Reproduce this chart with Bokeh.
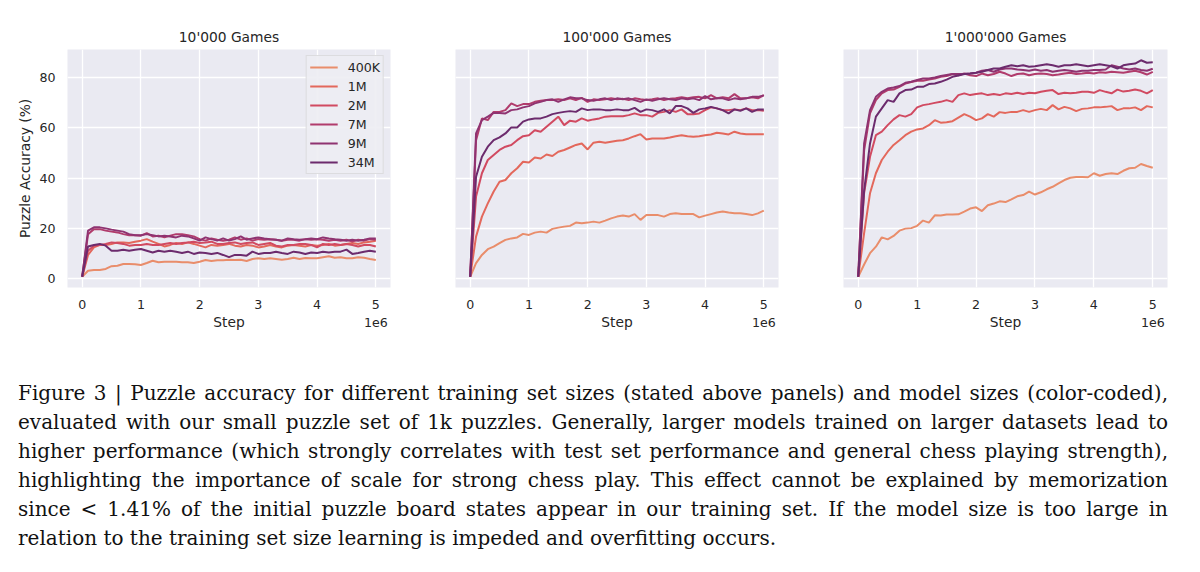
from bokeh.plotting import figure
from bokeh.models import Range1d, FixedTicker, Legend, LegendItem, Div
from bokeh.layouts import row, column
from bokeh.embed import file_html
from bokeh.resources import INLINE

# ---------------- data ----------------
steps = [i * 100000 for i in range(51)]
model_sizes = ["400K", "1M", "2M", "7M", "9M", "34M"]
colors = ["#e98d6b", "#e3685c", "#d14a61", "#b13c6c", "#8f3371", "#6c2b6d"]
panel_titles = ["10'000 Games", "100'000 Games", "1'000'000 Games"]
x_tick_labels = ["0", "1", "2", "3", "4", "5\n1e6"]
y_ticks = [0, 20, 40, 60, 80]

# 10'000 games
g10k_400k = [0.6, 3.0, 3.3, 3.3, 3.7, 4.8, 5.0, 5.7, 5.7, 5.6, 5.3, 6.1, 7.0, 6.4, 6.6, 6.6, 6.6, 6.4, 6.4, 6.1,
             6.6, 7.3, 6.9, 7.2, 7.2, 7.4, 7.3, 7.4, 6.9, 7.7, 8.0, 7.7, 8.0, 7.7, 7.4, 7.7, 8.2, 7.7, 8.1, 8.0,
             8.0, 8.4, 8.8, 8.2, 8.4, 8.0, 8.0, 8.4, 8.2, 7.7, 7.3]
g10k_1m = [0.6, 9.3, 12.3, 13.3, 13.3, 13.7, 14.3, 14.3, 14.1, 14.6, 15.0, 15.6, 14.6, 13.7, 12.7, 13.3, 14.1, 13.7,
           14.3, 13.7, 13.0, 12.3, 13.3, 13.0, 13.3, 13.7, 13.0, 12.7, 13.3, 13.0, 12.3, 12.7, 13.3, 12.7, 12.3,
           13.0, 13.3, 13.0, 12.7, 13.3, 13.0, 13.3, 13.7, 13.0, 13.3, 13.7, 14.1, 13.7, 14.3, 14.6, 15.0]
g10k_2m = [0.6, 11.0, 13.0, 13.3, 13.7, 14.3, 14.1, 13.7, 13.0, 13.3, 13.3, 13.7, 13.3, 13.3, 13.7, 14.1, 13.7, 14.1,
           14.3, 14.6, 14.1, 14.3, 14.6, 13.7, 13.7, 14.1, 14.3, 13.7, 14.1, 14.3, 13.3, 13.7, 14.1, 13.0, 12.7,
           13.3, 13.3, 13.7, 13.7, 13.3, 12.3, 13.7, 13.3, 13.7, 13.3, 13.7, 13.3, 12.7, 13.3, 13.3, 12.7]
g10k_7m = [0.6, 17.6, 19.6, 19.6, 19.0, 18.6, 18.3, 17.6, 17.2, 17.2, 17.0, 18.0, 16.7, 17.0, 16.3, 17.0, 17.6, 17.6,
           17.2, 16.7, 15.6, 15.0, 15.9, 15.4, 15.0, 15.4, 16.3, 15.4, 15.9, 15.0, 15.6, 15.4, 15.6, 15.4, 15.0,
           15.4, 15.4, 15.0, 15.6, 15.4, 15.6, 15.4, 15.0, 15.4, 15.0, 15.4, 14.6, 15.4, 15.0, 15.6, 15.4]
g10k_9m = [0.6, 19.0, 20.3, 20.3, 19.9, 19.4, 19.0, 18.6, 17.6, 17.2, 17.2, 17.6, 17.2, 16.7, 17.0, 16.7, 16.3, 17.0,
           16.7, 15.9, 15.0, 16.3, 15.6, 15.0, 15.9, 15.0, 15.6, 16.7, 15.4, 15.9, 16.3, 15.9, 15.6, 15.4, 15.0,
           15.9, 15.6, 15.4, 15.6, 15.9, 15.6, 16.3, 15.9, 15.6, 15.4, 15.0, 15.4, 15.0, 15.4, 15.9, 15.9]
g10k_34m = [0.6, 12.7, 13.3, 13.7, 13.0, 11.0, 11.0, 11.4, 11.0, 11.4, 11.7, 11.0, 10.3, 11.0, 10.6, 11.0, 10.6, 10.1,
            10.6, 9.7, 10.3, 10.1, 9.7, 10.1, 9.3, 8.4, 9.3, 9.3, 9.0, 10.6, 9.7, 10.1, 10.1, 10.6, 10.1, 9.7,
            10.6, 10.3, 9.7, 10.3, 10.1, 10.6, 10.3, 10.6, 10.6, 11.4, 9.7, 10.1, 10.6, 11.0, 10.6]

# 100'000 games
g100k_400k = [0.6, 6.0, 9.3, 11.6, 12.6, 14.0, 15.3, 15.9, 16.3, 17.7, 17.3, 18.2, 18.6, 18.2, 19.7, 20.2, 20.6, 20.9,
              22.2, 21.9, 22.2, 22.6, 22.2, 23.0, 23.9, 24.6, 25.0, 24.6, 25.6, 23.3, 25.2, 25.2, 25.2, 24.6, 25.6,
              25.9, 25.6, 25.6, 25.6, 24.3, 25.0, 25.6, 26.2, 26.6, 26.2, 25.9, 25.9, 25.6, 25.2, 25.9, 27.0]
g100k_1m = [0.6, 16.6, 24.6, 29.9, 34.6, 38.5, 39.2, 41.9, 43.9, 46.5, 46.2, 48.2, 47.8, 49.4, 48.8, 50.5, 51.2, 52.2,
            53.2, 53.8, 51.4, 54.1, 54.5, 54.1, 54.5, 54.9, 55.1, 55.8, 56.7, 57.5, 55.4, 55.8, 55.8, 55.8, 56.2,
            56.7, 57.1, 56.7, 56.5, 56.7, 57.1, 57.4, 58.1, 57.8, 57.4, 58.5, 57.8, 57.5, 57.5, 57.5, 57.5]
g100k_2m = [0.6, 32.6, 41.9, 47.2, 49.2, 51.2, 52.5, 53.2, 55.1, 56.7, 57.1, 59.1, 58.5, 60.5, 62.5, 64.5, 61.1, 62.9,
            62.5, 63.8, 62.9, 63.4, 63.8, 64.5, 64.7, 64.7, 64.7, 65.1, 65.8, 65.1, 65.1, 64.5, 66.0, 66.4, 67.1,
            66.4, 67.4, 65.5, 65.5, 65.8, 67.1, 68.2, 67.8, 67.1, 67.1, 67.4, 67.1, 67.8, 67.1, 67.1, 66.8]
g100k_7m = [0.6, 55.1, 63.8, 63.1, 66.4, 66.4, 67.1, 69.8, 68.7, 69.5, 69.5, 70.4, 70.8, 71.1, 71.1, 71.4, 71.1, 71.8,
            71.1, 72.0, 70.4, 71.4, 71.1, 71.4, 71.8, 71.4, 71.6, 71.1, 71.8, 71.4, 71.1, 71.4, 71.8, 71.1, 71.6,
            71.8, 72.2, 71.8, 72.2, 72.4, 71.8, 73.1, 71.8, 72.2, 71.8, 73.5, 71.8, 71.8, 72.2, 71.8, 73.1]
g100k_9m = [0.6, 57.8, 63.1, 64.5, 66.0, 66.0, 65.8, 67.1, 67.4, 68.2, 68.7, 69.8, 70.4, 71.1, 71.4, 70.4, 71.4, 72.2,
            71.8, 71.8, 71.1, 70.8, 71.4, 71.8, 71.1, 71.8, 71.4, 71.8, 71.1, 70.4, 71.4, 70.8, 71.4, 71.8, 71.4,
            71.1, 71.8, 71.4, 71.8, 71.1, 72.7, 71.4, 71.8, 71.8, 71.1, 71.8, 71.4, 71.8, 72.4, 72.4, 73.0]
g100k_34m = [0.6, 40.5, 48.5, 52.5, 55.1, 56.2, 57.8, 60.2, 60.2, 62.5, 63.4, 63.8, 63.8, 64.5, 65.5, 66.0, 66.4, 66.7,
             66.4, 67.8, 67.1, 67.4, 67.4, 67.1, 67.1, 67.4, 67.1, 67.1, 68.0, 66.4, 67.4, 67.1, 66.4, 67.4, 65.8,
             68.7, 68.7, 67.8, 66.0, 67.4, 67.8, 68.4, 67.8, 67.1, 65.8, 67.4, 66.8, 67.8, 66.4, 67.4, 67.4]

# 1'000'000 games
g1m_400k = [0.6, 5.5, 10.0, 12.6, 16.3, 15.5, 16.9, 19.0, 19.8, 20.0, 20.9, 23.0, 22.2, 25.1, 25.0, 25.4, 25.4, 25.5,
            26.6, 27.8, 28.3, 26.8, 29.1, 29.8, 30.7, 30.4, 31.5, 32.7, 33.2, 34.6, 33.4, 34.3, 35.5, 36.5, 37.9,
            39.2, 40.1, 40.4, 40.4, 40.3, 41.9, 40.9, 41.6, 41.9, 41.6, 42.9, 43.9, 44.1, 45.6, 44.8, 44.1]
g1m_1m = [0.6, 18.0, 33.9, 41.9, 47.2, 50.5, 53.2, 55.1, 57.1, 58.5, 59.4, 59.8, 61.1, 63.1, 62.1, 62.3, 62.7, 64.1,
          65.5, 64.5, 63.1, 63.8, 65.5, 64.5, 66.3, 66.0, 66.4, 66.4, 67.1, 66.4, 67.1, 67.6, 67.1, 69.1, 67.4,
          68.4, 67.8, 66.7, 67.6, 67.8, 68.2, 68.2, 68.4, 68.7, 67.1, 67.8, 67.8, 68.2, 67.1, 68.7, 68.2]
g1m_2m = [0.6, 34.0, 48.5, 57.1, 58.5, 61.1, 63.4, 65.1, 64.5, 65.5, 68.2, 69.1, 69.5, 70.0, 70.4, 71.1, 70.4, 73.1,
          73.8, 73.1, 73.5, 73.8, 73.1, 73.5, 73.1, 73.8, 73.5, 74.0, 73.5, 74.0, 73.8, 74.4, 74.8, 75.1, 73.5,
          74.0, 73.8, 74.0, 74.4, 74.4, 74.0, 75.1, 74.4, 73.8, 75.3, 74.5, 74.8, 75.3, 74.8, 73.8, 75.1]
g1m_7m = [0.6, 51.0, 65.8, 71.1, 73.8, 75.1, 75.3, 76.4, 77.7, 78.3, 78.8, 78.8, 79.3, 79.7, 80.4, 80.7, 81.5, 81.0,
          81.7, 81.0, 80.7, 81.7, 81.0, 81.5, 82.4, 81.7, 80.7, 81.5, 81.7, 81.0, 81.5, 81.7, 81.5, 81.0, 81.3,
          81.7, 82.0, 81.5, 81.7, 82.0, 81.7, 82.2, 82.0, 82.4, 82.2, 82.0, 82.4, 82.8, 82.2, 81.3, 82.4]
g1m_9m = [0.6, 53.8, 67.1, 72.4, 74.4, 75.7, 76.1, 76.7, 78.0, 78.4, 79.1, 79.7, 79.7, 80.1, 80.7, 81.1, 81.5, 81.5,
          81.5, 81.7, 82.0, 82.8, 83.1, 82.4, 83.3, 83.7, 83.7, 83.3, 83.1, 82.8, 83.3, 82.8, 83.1, 82.4, 82.8,
          83.1, 82.8, 82.4, 82.8, 82.8, 83.1, 83.1, 83.3, 85.0, 84.4, 83.7, 83.3, 83.7, 83.1, 82.8, 83.6]
g1m_34m = [0.6, 35.0, 53.8, 64.5, 67.8, 71.1, 70.4, 73.8, 75.1, 75.3, 76.4, 76.4, 77.5, 77.7, 78.4, 79.3, 80.4, 80.9,
           81.5, 81.7, 82.0, 82.4, 83.1, 83.7, 83.7, 84.4, 85.0, 84.6, 85.0, 84.4, 84.6, 85.0, 85.4, 85.0, 84.4,
           85.0, 85.0, 85.4, 85.0, 84.6, 85.0, 85.4, 85.0, 84.6, 83.7, 85.0, 85.4, 85.7, 87.0, 86.0, 86.2]

panels = [
    [g10k_400k, g10k_1m, g10k_2m, g10k_7m, g10k_9m, g10k_34m],
    [g100k_400k, g100k_1m, g100k_2m, g100k_7m, g100k_9m, g100k_34m],
    [g1m_400k, g1m_1m, g1m_2m, g1m_7m, g1m_9m, g1m_34m],
]

caption_lines = [
    "Figure 3 | Puzzle accuracy for different training set sizes (stated above panels) and model sizes (color-coded),",
    "evaluated with our small puzzle set of 1k puzzles. Generally, larger models trained on larger datasets lead to",
    "higher performance (which strongly correlates with test set performance and general chess playing strength),",
    "highlighting the importance of scale for strong chess play. This effect cannot be explained by memorization",
    "since &lt; 1.41% of the initial puzzle board states appear in our training set. If the model size is too large in",
    "relation to the training set size learning is impeded and overfitting occurs.",
]

# ---------------- style ----------------
BG = "#EAEAF2"
TXT = "#262626"
FONT = "DejaVu Sans"
TICK_FS = "12.6px"
LAB_FS = "13.8px"

borders = [(67, 30), (35, 32), (33, 25)]
frame_widths = [323, 323, 324]

figs = []
for k in range(3):
    p = figure(output_backend="svg", toolbar_location=None,
               frame_width=frame_widths[k], frame_height=238,
               min_border_left=borders[k][0], min_border_right=borders[k][1],
               min_border_top=49, min_border_bottom=53,
               x_range=Range1d(-250000, 5250000), y_range=Range1d(-3.7, 91.3),
               background_fill_color=BG, border_fill_color="white")
    p.outline_line_color = None
    p.title.text = panel_titles[k]
    p.title.align = "center"
    p.title.text_font = FONT
    p.title.text_font_size = LAB_FS
    p.title.text_font_style = "normal"
    p.title.text_color = TXT
    p.title.standoff = 9

    xt = [0, 1000000, 2000000, 3000000, 4000000, 5000000]
    p.xaxis.ticker = FixedTicker(ticks=xt)
    p.xaxis.major_label_overrides = {t: lab for t, lab in zip(xt, x_tick_labels)}
    p.xaxis.axis_label = "Step"
    for ax in [p.xaxis[0], p.yaxis[0]]:
        ax.axis_line_color = None
        ax.major_tick_line_color = None
        ax.minor_tick_line_color = None
        ax.major_tick_out = 0
        ax.major_tick_in = 0
        ax.minor_tick_out = 0
        ax.major_label_text_font = FONT
        ax.major_label_text_font_size = TICK_FS
        ax.major_label_text_color = TXT
        ax.axis_label_text_font = FONT
        ax.axis_label_text_font_size = LAB_FS
        ax.axis_label_text_font_style = "normal"
        ax.axis_label_text_color = TXT
    p.xaxis.major_label_standoff = 9
    p.xaxis.axis_label_standoff = -19
    p.yaxis.ticker = FixedTicker(ticks=y_ticks)
    p.yaxis.major_label_standoff = 12
    p.yaxis.axis_label_standoff = 3
    if k == 0:
        p.yaxis.axis_label = "Puzzle Accuracy (%)"
    else:
        p.yaxis.visible = False
    p.ygrid.ticker = FixedTicker(ticks=y_ticks)
    p.xgrid.ticker = FixedTicker(ticks=xt)
    for g in [p.xgrid[0], p.ygrid[0]]:
        g.grid_line_color = "white"
        g.grid_line_width = 1.3

    items = []
    for series, name, col in zip(panels[k], model_sizes, colors):
        r = p.line(steps, series, line_color=col, line_width=2)
        items.append(LegendItem(label=name, renderers=[r]))

    if k == 0:
        leg = Legend(items=items, location="top_right")
        leg.margin = 6
        leg.padding = 3
        leg.spacing = 3
        leg.glyph_width = 28
        leg.glyph_height = 16
        leg.label_height = 16
        leg.label_standoff = 10
        leg.label_text_font = FONT
        leg.label_text_font_size = TICK_FS
        leg.label_text_color = TXT
        leg.background_fill_color = "#EDEDF3"
        leg.background_fill_alpha = 0.9
        leg.border_line_color = "#cccccc"
        leg.border_line_width = 1
        p.add_layout(leg, "center")

    figs.append(p)

line_html = []
for i, ln in enumerate(caption_lines):
    if i == len(caption_lines) - 1:
        line_html.append(f'<div style="display:block;width:1150px;text-align:left;white-space:nowrap;">{ln}</div>')
    else:
        line_html.append(f'<div style="display:block;width:1150px;text-align:justify;'
                         f'text-align-last:justify;white-space:nowrap;">{ln}</div>')
caption = Div(text="".join(line_html), width=1192, height=216, margin=(0, 0, 0, 0),
              styles={"font-family": "'DejaVu Serif', serif", "font-size": "20px",
                      "line-height": "29px", "color": "#111111",
                      "padding-top": "38.5px", "padding-left": "18px",
                      "box-sizing": "border-box", "width": "1192px"})

layout = column(row(*figs, spacing=0), caption, spacing=0)
open("out.html", "w").write(file_html(layout, INLINE))
